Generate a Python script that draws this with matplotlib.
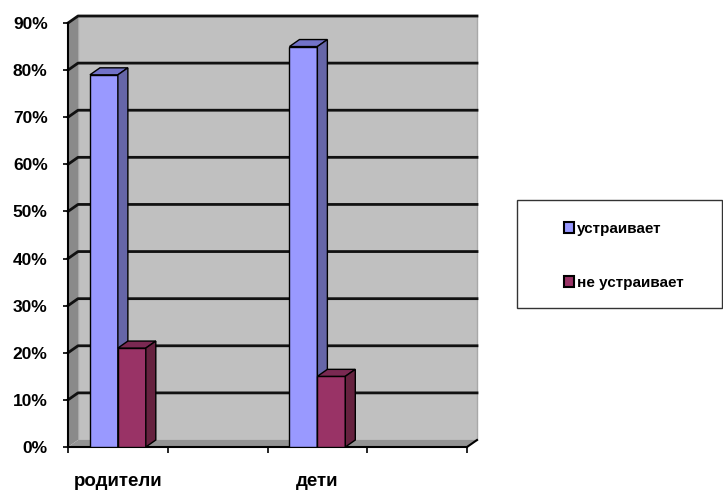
import matplotlib
matplotlib.use('Agg')
import matplotlib.pyplot as plt
from matplotlib.patches import Polygon, Rectangle
from matplotlib.transforms import IdentityTransform

# data
group_labels = ['родители', '', 'дети', '']
series_names = ['устраивает', 'не устраивает']
satisfied = [79, None, 85, None]
not_satisfied = [21, None, 15, None]
y_ticks = [0, 10, 20, 30, 40, 50, 60, 70, 80, 90]

front_colors = ['#9999FF', '#993366']
top_colors = ['#7272C8', '#7A2952']
side_colors = ['#6666A8', '#66223F']

DX, DY = 10, 7  # depth offset in pixels
BAR_W = 0.28

fig = plt.figure(figsize=(7.23, 4.90), dpi=100)
ax = fig.add_axes([68 / 723, 43 / 490, 399 / 723, 424 / 490])
ax.set_xlim(0, len(group_labels))
ax.set_ylim(0, 90)
ax.patch.set_visible(False)
ident = IdentityTransform()


def disp(x, y):
    return ax.transData.transform((x, y))


def add_poly(pts, fc, ec='none', lw=1.0, z=0.5):
    ax.add_patch(Polygon(pts, closed=True, facecolor=fc, edgecolor=ec, lw=lw,
                         transform=ident, clip_on=False, zorder=z))


# walls and floor
x0, y0 = disp(0, 0)
x1, y1 = disp(len(group_labels), 90)
add_poly([(x0 + DX, y0 + DY), (x1 + DX, y0 + DY), (x1 + DX, y1 + DY), (x0 + DX, y1 + DY)],
         '#C0C0C0', ec='#A8A8A8', z=0.3)
add_poly([(x0, y0), (x0 + DX, y0 + DY), (x0 + DX, y1 + DY), (x0, y1)], '#8A8A8A', z=0.4)
add_poly([(x0, y0), (x1, y0), (x1 + DX, y0 + DY), (x0 + DX, y0 + DY)], '#939393', z=0.4)
ax.plot([x1, x1 + DX], [y0, y0 + DY], color='black', lw=1.5, transform=ident,
        clip_on=False, zorder=2.5)

# gridlines on back wall and side wall
for v in y_ticks[1:]:
    _, yv = disp(0, v)
    ax.plot([x0, x0 + DX, x1 + DX], [yv, yv + DY, yv + DY], color='#111111',
            lw=2.0, transform=ident, clip_on=False, zorder=0.6)

# bars with 3D faces
for s, vals in enumerate([satisfied, not_satisfied]):
    xs = [i + 0.5 + (s - 0.5) * BAR_W for i, v in enumerate(vals) if v is not None]
    hs = [v for v in vals if v is not None]
    bars = ax.bar(xs, hs, width=BAR_W, color=front_colors[s], edgecolor='black',
                  lw=1.0, zorder=3 + s, label=series_names[s])
    for rect in bars:
        bx0, by0 = disp(rect.get_x(), 0)
        bx1, by1 = disp(rect.get_x() + rect.get_width(), rect.get_height())
        add_poly([(bx0, by1), (bx1, by1), (bx1 + DX, by1 + DY), (bx0 + DX, by1 + DY)],
                 top_colors[s], ec='black', z=3 + s)
        add_poly([(bx1, by0), (bx1 + DX, by0 + DY), (bx1 + DX, by1 + DY), (bx1, by1)],
                 side_colors[s], ec='black', z=3 + s)

# axes
for side in ['top', 'right']:
    ax.spines[side].set_visible(False)
for side in ['left', 'bottom']:
    ax.spines[side].set_linewidth(1.5)
    ax.spines[side].set_zorder(2.5)
ax.set_yticks(y_ticks)
ax.set_yticklabels([f'{v}%' for v in y_ticks], fontfamily='Liberation Sans',
                   fontweight='bold', fontsize=12.5)
ax.tick_params(axis='y', length=3.6, width=1.2, pad=11)
ax.set_xticks(range(len(group_labels) + 1))
ax.set_xticklabels([])
ax.set_xticks([i + 0.5 for i in range(len(group_labels))], minor=True)
ax.set_xticklabels(group_labels, minor=True, fontfamily='Liberation Sans',
                   fontweight='bold', fontsize=13.5)
ax.tick_params(axis='x', which='major', length=4.5, width=1.2)
ax.tick_params(axis='x', which='minor', length=0, pad=19)

# legend
fig.patches.append(Rectangle((517, 182), 205, 108, facecolor='none', edgecolor='#333333',
                             lw=1.0, transform=ident, figure=fig))
leg = ax.legend(loc='upper left', bbox_to_anchor=(556 / 723, (490 - 214) / 490),
                bbox_transform=fig.transFigure, frameon=False, borderpad=0,
                handlelength=0.7, handleheight=0.7, handletextpad=0.2,
                labelspacing=2.65,
                prop={'family': 'Liberation Sans', 'weight': 'bold', 'size': 11})
for h in leg.legend_handles:
    h.set_edgecolor('black')
    h.set_linewidth(1.5)

fig.savefig('out.png', dpi=100)
